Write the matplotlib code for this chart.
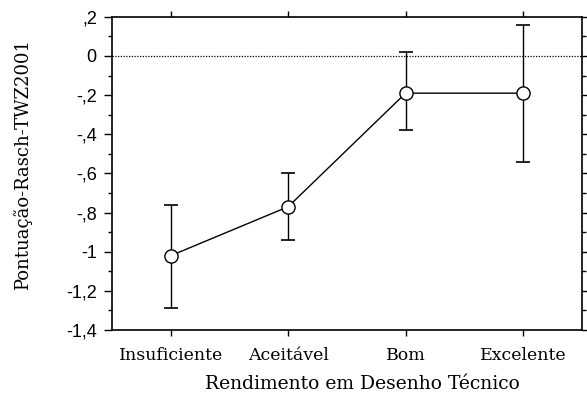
import numpy as np
import matplotlib
matplotlib.use('Agg')
import matplotlib.pyplot as plt
from matplotlib.ticker import MultipleLocator, FuncFormatter

# Dados
categorias = ['Insuficiente', 'Aceitável', 'Bom', 'Excelente']
media = [-1.02, -0.77, -0.19, -0.19]
erro_sup = [-0.76, -0.60, 0.02, 0.16]
erro_inf = [-1.29, -0.94, -0.38, -0.54]

media = np.array(media)
yerr = [media - np.array(erro_inf), np.array(erro_sup) - media]
x = np.arange(len(categorias))

fig = plt.figure(figsize=(5.87, 4.01), dpi=100)
ax = fig.add_axes([0.191, 0.177, 0.800, 0.781])

ax.axhline(0, color='black', lw=0.9, ls=(0, (1, 1.2)), zorder=1)
ax.errorbar(x, media, yerr=yerr, fmt='none', ecolor='black', elinewidth=1,
            capsize=5, capthick=1.2, zorder=2)
ax.plot(x, media, '-', color='black', lw=1, marker='o', ms=9.5,
        markerfacecolor='white', markeredgecolor='black', markeredgewidth=1,
        zorder=3)

ax.set_xlim(-0.5, 3.5)
ax.set_ylim(-1.4, 0.2)
ax.set_xticks(x)
ax.set_xticklabels(categorias, family='DejaVu Serif', fontsize=12.5)
ax.yaxis.set_major_locator(MultipleLocator(0.2))
ax.yaxis.set_minor_locator(MultipleLocator(0.1))


def fmt(v, pos):
    v = round(v, 1)
    if v == 0:
        return '0'
    if v == int(v):
        return '%d' % v
    s = ('%.1f' % v).replace('.', ',')
    s = s.replace('0,', ',')
    return s


ax.yaxis.set_major_formatter(FuncFormatter(fmt))
for lab in ax.get_yticklabels():
    lab.set_family('Liberation Sans')
    lab.set_fontsize(13)

ax.tick_params(axis='both', which='both', direction='out', top=True, right=True,
               width=1, colors='black')
ax.tick_params(axis='y', which='major', length=6, pad=5)
ax.tick_params(axis='y', which='minor', length=3)
ax.tick_params(axis='x', which='major', length=4, pad=8)
for s in ax.spines.values():
    s.set_linewidth(1.2)

ax.set_xlabel('Rendimento em Desenho Técnico', family='DejaVu Serif',
              fontsize=13.5)
ax.xaxis.set_label_coords(0.534, -0.145)
ax.set_ylabel('Pontuação-Rasch-TWZ2001', family='DejaVu Serif',
              fontsize=13)
ax.yaxis.set_label_coords(-0.17, 0.527)

fig.savefig('out.png', dpi=100)
